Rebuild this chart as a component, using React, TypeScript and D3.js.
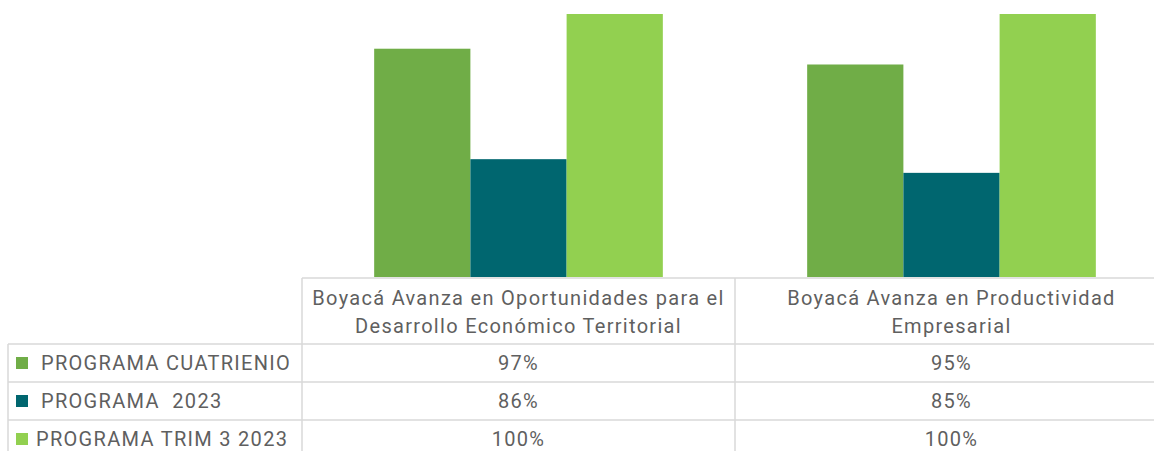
import React from "react";
import * as d3 from "d3";

const categories = [
  ["Boyacá Avanza en Oportunidades para el", "Desarrollo Económico Territorial"],
  ["Boyacá Avanza en Productividad", "Empresarial"],
];
const seriesNames = ["PROGRAMA CUATRIENIO", "PROGRAMA  2023", "PROGRAMA TRIM 3 2023"];
const seriesColors = ["#70AD47", "#00666F", "#92D050"];
const cuatrienio = [0.967, 0.952];
const prog2023 = [0.862, 0.849];
const trim3 = [1.0, 1.0];
const labels = [
  ["97%", "95%"],
  ["86%", "85%"],
  ["100%", "100%"],
];
const values = [cuatrienio, prog2023, trim3];

const W = 1154;
const H = 451;
const FONT = "Roboto, 'Noto Sans', sans-serif";
const TXT = "#5f5f5f";
const GRID = "#D9D9D9";

export default function App() {
  const tableLeft = 302;
  const tableRight = 1168;
  const plotTop = 14;
  const plotBottom = 277;
  const catIdx = categories.map((_, i) => String(i));
  const x0 = d3.scaleBand<string>().domain(catIdx).range([tableLeft, tableRight]).padding(0);
  const x1 = d3
    .scaleBand<string>()
    .domain(seriesNames)
    .range([0, x0.bandwidth()])
    .paddingInner(0)
    .paddingOuter(0.75);
  const y = d3.scaleLinear().domain([0.75, 1.0]).range([plotBottom, plotTop]);

  const headerTop = 278;
  const rowTops = [344, 382, 420];
  const rowH = 38;
  const fs = 20;
  const ls = 1.3;

  return (
    <svg
      width={W}
      height={H}
      style={{ position: "absolute", left: 0, top: 0, display: "block", background: "#fff" }}
      fontFamily={FONT}
    >
      <rect x={0} y={0} width={W} height={H} fill="#fff" />
      {categories.map((_, ci) =>
        seriesNames.map((s, si) => (
          <rect
            key={`${ci}-${si}`}
            x={(x0(String(ci)) ?? 0) + (x1(s) ?? 0)}
            y={y(values[si][ci])}
            width={x1.bandwidth()}
            height={plotBottom - y(values[si][ci])}
            fill={seriesColors[si]}
          />
        ))
      )}
      <g stroke={GRID} strokeWidth={1.5} fill="none">
        <line x1={tableLeft} x2={tableRight} y1={headerTop} y2={headerTop} />
        {rowTops.map((t) => (
          <line key={t} x1={8} x2={tableRight} y1={t} y2={t} />
        ))}
        <line x1={8} x2={8} y1={rowTops[0]} y2={H} />
        {catIdx.map((c) => (
          <line key={c} x1={x0(c) ?? 0} x2={x0(c) ?? 0} y1={headerTop} y2={H} />
        ))}
        <line x1={tableRight} x2={tableRight} y1={headerTop} y2={H} />
      </g>
      {categories.map((lines, ci) => (
        <text
          key={ci}
          textAnchor="middle"
          fontSize={fs}
          fill={TXT}
          letterSpacing={ls}
        >
          {lines.map((l, li) => (
            <tspan key={li} x={(x0(String(ci)) ?? 0) + x0.bandwidth() / 2} y={305 + li * 28}>
              {l}
            </tspan>
          ))}
        </text>
      ))}
      {seriesNames.map((s, si) => (
        <g key={s}>
          <rect x={16} y={rowTops[si] + rowH / 2 - 6} width={12} height={12} fill={seriesColors[si]} />
          <text
            x={si === 2 ? 36 : 41}
            y={rowTops[si] + rowH / 2 + 7}
            fontSize={fs}
            fill={TXT}
            letterSpacing={ls}
            style={{ whiteSpace: "pre" }}
          >
            {s}
          </text>
          {categories.map((_, ci) => (
            <text
              key={ci}
              x={(x0(String(ci)) ?? 0) + x0.bandwidth() / 2}
              y={rowTops[si] + rowH / 2 + 7}
              textAnchor="middle"
              fontSize={fs}
              fill={TXT}
              letterSpacing={ls}
            >
              {labels[si][ci]}
            </text>
          ))}
        </g>
      ))}
    </svg>
  );
}
